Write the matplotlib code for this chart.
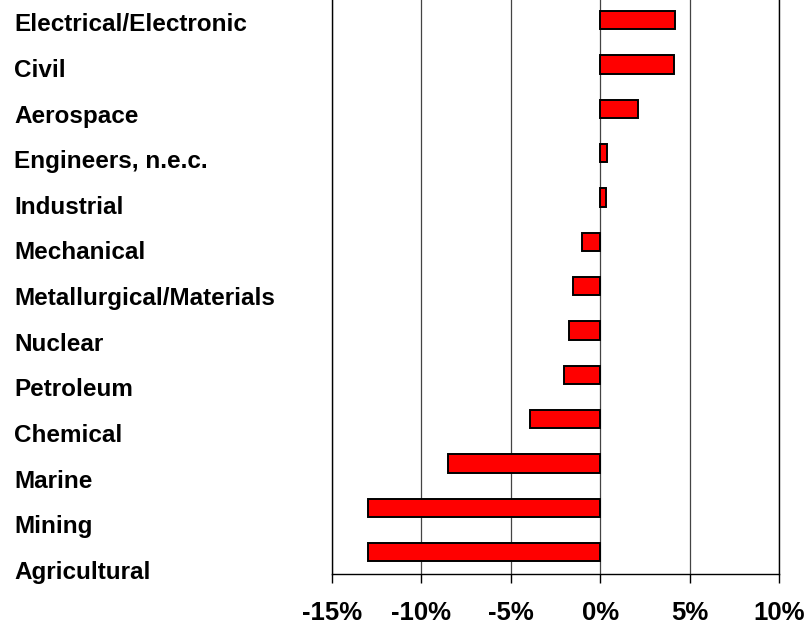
import numpy as np
import matplotlib
matplotlib.use("Agg")
import matplotlib.pyplot as plt
from matplotlib.ticker import FuncFormatter

# change by engineering field, percent
fields = ["Electrical/Electronic", "Civil", "Aerospace", "Engineers, n.e.c.",
          "Industrial", "Mechanical", "Metallurgical/Materials", "Nuclear",
          "Petroleum", "Chemical", "Marine", "Mining", "Agricultural"]
change = [4.2, 4.1, 2.1, 0.4, 0.3, -1.0, -1.5, -1.75, -2.05, -3.9, -8.5, -13.0, -13.0]
xticks = [-15, -10, -5, 0, 5, 10]

plt.rcParams['font.family'] = ['Liberation Sans', 'DejaVu Sans']
plt.rcParams['font.weight'] = 'bold'

W, H = 811, 629
fig = plt.figure(figsize=(W / 100, H / 100), dpi=100)

left, right, top, bottom = 331.7, 779.3, -1.97, 574.4
ax = fig.add_axes([left / W, 1 - bottom / H, (right - left) / W, (bottom - top) / H])

pos = np.arange(len(fields))
ax.barh(pos, change, height=0.41, color='#ff0000', edgecolor='black', linewidth=1.4, zorder=3)
ax.set_ylim(len(fields) - 0.5, -0.5)
ax.set_xlim(-15, 10)
ax.set_xticks(xticks)
ax.xaxis.set_major_formatter(FuncFormatter(lambda v, p: "%d%%" % v))
ax.tick_params(axis='x', direction='out', length=6.5, width=1, pad=12.5, labelsize=18.5)
ax.set_yticks([])
ax.grid(axis='x', color='#444444', linewidth=0.9, zorder=0)
ax.spines['top'].set_visible(False)
for s in ['left', 'right', 'bottom']:
    ax.spines[s].set_linewidth(1.0)

# category labels sit on a slightly different spacing than the bars
lab_top, lab_step = 22.5, 45.6
lab_ax = fig.add_axes([left / W, 1 - (lab_top + lab_step * 12.5) / H,
                       (right - left) / W, lab_step * 13 / H])
lab_ax.set_ylim(len(fields) - 0.5, -0.5)
lab_ax.set_yticks(pos)
lab_ax.set_yticklabels(fields, fontsize=17.5, ha='left')
lab_ax.tick_params(axis='y', length=0, pad=(left - 14) * 0.72)
lab_ax.set_xticks([])
lab_ax.patch.set_visible(False)
for s in lab_ax.spines.values():
    s.set_visible(False)

fig.savefig("out.png", dpi=100)
